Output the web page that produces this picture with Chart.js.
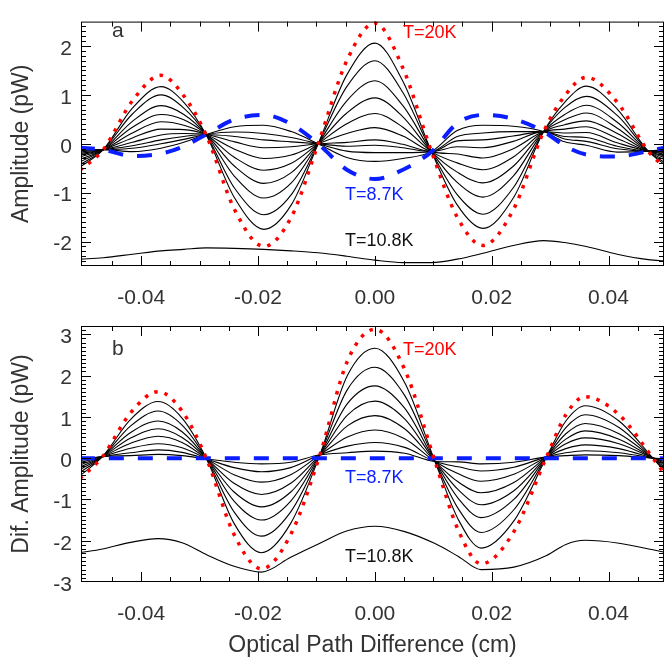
<!DOCTYPE html>
<html>
<head>
<meta charset="utf-8">
<script src="https://cdn.jsdelivr.net/npm/chart.js@4.4.1/dist/chart.umd.min.js"></script>
<style>
  body { margin: 0; background: #fff; }
  #wrap { position: relative; width: 665px; height: 663px; }
  canvas { position: absolute; left: 0; }
</style>
</head>
<body>
<div id="wrap">
  <canvas id="panelA" width="665" height="320" style="top:0"></canvas>
  <canvas id="panelB" width="665" height="363" style="top:300px"></canvas>
</div>
<script>
// tick labels
const opdTicks = [-0.04, -0.02, 0.00, 0.02, 0.04];
const ampTicksA = [-2, -1, 0, 1, 2];
const ampTicksB = [-3, -2, -1, 0, 1, 2, 3];

// optical path difference (cm) sample positions, panel a
const opdA = [-0.0505, -0.0465, -0.0415, -0.0366, -0.0327, -0.0289, -0.0240, -0.0190, -0.0143, -0.0097, -0.0048, 0.0,
              0.0048, 0.0097, 0.0141, 0.0185, 0.0237, 0.0289, 0.0325, 0.0362, 0.0415, 0.0468, 0.0500];
// amplitude (pW)
const ampA20K  = [-0.54, -0.12, 0.88, 1.40, 0.98, 0.19, -1.35, -2.10, -1.50, 0.00, 1.70, 2.47, 1.55, -0.16, -1.50, -2.08, -1.35, 0.25, 0.98, 1.36, 0.85, -0.15, -0.52];
const ampA87K  = [-0.08, -0.12, -0.25, -0.20, -0.05, 0.19, 0.50, 0.59, 0.40, 0.00, -0.53, -0.72, -0.53, -0.16, 0.42, 0.59, 0.51, 0.25, -0.04, -0.22, -0.26, -0.15, -0.07];
const ampA108K = [-2.36, -2.33, -2.26, -2.19, -2.16, -2.13, -2.14, -2.16, -2.19, -2.23, -2.30, -2.38, -2.43, -2.43, -2.36, -2.24, -2.08, -1.98, -2.02, -2.10, -2.26, -2.37, -2.40];
const ampA1  = [-0.48, -0.12, 0.73, 1.17, 0.85, 0.19, -1.11, -1.75, -1.25, 0.00, 1.41, 2.06, 1.28, -0.16, -1.25, -1.73, -1.11, 0.25, 0.85, 1.18, 0.71, -0.15, -0.46];
const ampA2  = [-0.43, -0.12, 0.61, 1.00, 0.73, 0.19, -0.91, -1.45, -1.04, 0.00, 1.17, 1.70, 1.05, -0.16, -1.04, -1.44, -0.90, 0.25, 0.74, 0.97, 0.58, -0.15, -0.41];
const ampA3  = [-0.37, -0.12, 0.46, 0.78, 0.60, 0.19, -0.67, -1.11, -0.80, 0.00, 0.88, 1.29, 0.78, -0.16, -0.79, -1.09, -0.66, 0.25, 0.60, 0.79, 0.44, -0.15, -0.35];
const ampA4  = [-0.32, -0.12, 0.34, 0.60, 0.49, 0.19, -0.46, -0.81, -0.59, 0.00, 0.63, 0.94, 0.55, -0.16, -0.58, -0.80, -0.46, 0.25, 0.49, 0.63, 0.32, -0.15, -0.30];
const ampA5  = [-0.27, -0.12, 0.22, 0.45, 0.38, 0.19, -0.28, -0.54, -0.40, 0.00, 0.41, 0.62, 0.34, -0.16, -0.39, -0.53, -0.27, 0.25, 0.39, 0.47, 0.21, -0.15, -0.26];
const ampA6  = [-0.23, -0.12, 0.12, 0.30, 0.29, 0.19, -0.11, -0.30, -0.23, 0.00, 0.21, 0.33, 0.16, -0.16, -0.21, -0.29, -0.10, 0.25, 0.30, 0.35, 0.11, -0.15, -0.22];
const ampA7  = [-0.20, -0.12, 0.03, 0.18, 0.21, 0.19, 0.04, -0.08, -0.06, 0.00, 0.03, 0.08, -0.01, -0.16, -0.06, -0.08, 0.05, 0.25, 0.22, 0.23, 0.02, -0.15, -0.18];
const ampA8  = [-0.17, -0.12, -0.04, 0.08, 0.15, 0.19, 0.15, 0.08, 0.04, 0.00, -0.05, -0.03, -0.08, -0.16, 0.06, 0.08, 0.16, 0.25, 0.15, 0.13, -0.05, -0.15, -0.16];
const ampA9  = [-0.14, -0.12, -0.09, 0.00, 0.09, 0.19, 0.24, 0.21, 0.13, 0.00, -0.15, -0.18, -0.18, -0.16, 0.15, 0.22, 0.25, 0.25, 0.10, 0.05, -0.10, -0.15, -0.13];
const ampA10 = [-0.12, -0.12, -0.16, -0.09, 0.03, 0.19, 0.35, 0.38, 0.25, 0.00, -0.28, -0.36, -0.30, -0.16, 0.27, 0.38, 0.36, 0.25, 0.04, -0.03, -0.17, -0.15, -0.11];

// panel b
const opdB = [-0.0505, -0.0466, -0.0418, -0.0371, -0.0330, -0.0288, -0.0241, -0.0194, -0.0144, -0.0094, -0.0047, 0.0,
              0.0051, 0.0103, 0.0143, 0.0182, 0.0238, 0.0294, 0.0327, 0.0360, 0.0418, 0.0476, 0.0500];
const difB20K  = [-0.50, 0.04, 1.10, 1.61, 1.14, -0.02, -1.85, -2.68, -1.85, 0.08, 2.35, 3.12, 2.15, -0.08, -1.75, -2.56, -1.78, 0.03, 1.05, 1.49, 1.05, 0.00, -0.46];
const opdB87K  = [-0.0505, 0.0500];
const difB87K  = [0.00, 0.00];
const difB108K = [-2.29, -2.20, -2.04, -1.95, -2.05, -2.34, -2.62, -2.76, -2.40, -2.06, -1.76, -1.65, -1.78, -2.07, -2.38, -2.70, -2.64, -2.36, -2.09, -1.99, -2.06, -2.22, -2.29];
const difB1 = [-0.43, 0.04, 0.94, 1.37, 0.97, -0.02, -1.58, -2.29, -1.58, 0.08, 2.00, 2.66, 1.83, -0.08, -1.49, -2.18, -1.52, 0.03, 0.90, 1.27, 0.90, 0.00, -0.39];
const difB2 = [-0.35, 0.04, 0.78, 1.14, 0.80, -0.02, -1.30, -1.89, -1.30, 0.08, 1.66, 2.20, 1.52, -0.08, -1.23, -1.80, -1.25, 0.03, 0.74, 1.05, 0.74, 0.00, -0.32];
const difB3 = [-0.28, 0.04, 0.62, 0.90, 0.64, -0.02, -1.04, -1.50, -1.04, 0.08, 1.32, 1.75, 1.21, -0.08, -0.98, -1.44, -1.00, 0.03, 0.59, 0.84, 0.59, 0.00, -0.26];
const difB4 = [-0.22, 0.04, 0.49, 0.71, 0.50, -0.02, -0.82, -1.18, -0.82, 0.08, 1.04, 1.38, 0.95, -0.08, -0.77, -1.13, -0.79, 0.03, 0.46, 0.66, 0.46, 0.00, -0.20];
const difB5 = [-0.17, 0.04, 0.36, 0.53, 0.38, -0.02, -0.61, -0.88, -0.61, 0.08, 0.78, 1.03, 0.71, -0.08, -0.58, -0.84, -0.59, 0.03, 0.35, 0.49, 0.35, 0.00, -0.15];
const difB6 = [-0.11, 0.04, 0.24, 0.35, 0.25, -0.02, -0.40, -0.58, -0.40, 0.08, 0.51, 0.68, 0.47, -0.08, -0.38, -0.56, -0.39, 0.03, 0.23, 0.32, 0.23, 0.00, -0.10];
const difB7 = [-0.06, 0.04, 0.13, 0.20, 0.14, -0.02, -0.23, -0.33, -0.23, 0.08, 0.29, 0.38, 0.26, -0.08, -0.21, -0.31, -0.22, 0.03, 0.13, 0.18, 0.13, 0.00, -0.06];
const difB8 = [-0.03, 0.04, 0.06, 0.09, 0.06, -0.02, -0.10, -0.14, -0.10, 0.08, 0.13, 0.17, 0.12, -0.08, -0.09, -0.14, -0.10, 0.03, 0.06, 0.08, 0.06, 0.00, -0.02];

const ink = '#333';
const red = '#ff0000';
const blue = '#0a1eff';
const family = '"Liberation Sans", Arial, Helvetica, sans-serif';

const pts = (xs, ys) => xs.map((x, i) => ({x: x, y: ys[i]}));

function line(xs, ys, style) {
  return Object.assign({
    data: pts(xs, ys),
    borderColor: '#000',
    borderWidth: 1.1,
    pointRadius: 0,
    fill: false,
    clip: 0,
    cubicInterpolationMode: 'monotone',
  }, style);
}

// frame, inward IDL style ticks and the curve notes
const frameTicks = {
  id: 'frameTicks',
  afterDatasetsDraw(chart, args, opts) {
    const {ctx, chartArea: a, scales: {x, y}} = chart;
    ctx.save();
    ctx.strokeStyle = '#000';
    ctx.lineWidth = 1;
    ctx.beginPath();
    for (let i = -10; i <= 10; i++) {
      const px = Math.round(x.getPixelForValue(i * 0.005)) + 0.5;
      if (px < a.left + 3 || px > a.right - 3) continue;
      const len = i % 4 === 0 ? 10 : 5;
      ctx.moveTo(px, a.bottom); ctx.lineTo(px, a.bottom - len);
      ctx.moveTo(px, a.top); ctx.lineTo(px, a.top + len);
    }
    for (let i = Math.ceil(y.min * 10); i <= Math.floor(y.max * 10); i++) {
      const py = Math.round(y.getPixelForValue(i / 10)) + 0.5;
      if (py < a.top + 3 || py > a.bottom - 3) continue;
      const len = i % 10 === 0 ? 10 : 5;
      ctx.moveTo(a.left, py); ctx.lineTo(a.left + len, py);
      ctx.moveTo(a.right, py); ctx.lineTo(a.right - len, py);
    }
    ctx.stroke();
    ctx.strokeRect(a.left + 0.5, a.top + 0.5, a.right - a.left - 1, a.bottom - a.top - 1);

    ctx.textBaseline = 'alphabetic';
    ctx.textAlign = 'left';
    (opts.notes || []).forEach(n => {
      ctx.font = n.size + 'px ' + family;
      ctx.fillStyle = n.color;
      ctx.fillText(n.text, n.x, n.y);
    });
    ctx.restore();
  }
};

function panelOptions(p) {
  return {
    responsive: false,
    animation: false,
    events: [],
    layout: {padding: {top: p.padTop, right: 1, left: 0, bottom: 0}},
    plugins: {
      legend: {display: false},
      tooltip: {enabled: false},
      frameTicks: {notes: p.notes},
    },
    scales: {
      x: {
        type: 'linear',
        min: -0.0503,
        max: 0.0495,
        grid: {display: false, drawTicks: false},
        border: {display: false},
        afterFit: s => { s.height = p.xHeight; },
        afterBuildTicks: s => { s.ticks = opdTicks.map(v => ({value: v})); },
        ticks: {
          padding: 20, autoSkip: false, maxRotation: 0,
          color: ink, font: {family: family, size: 21},
          callback: v => v.toFixed(2),
        },
        title: {
          display: !!p.xTitle, text: p.xTitle || '', color: ink,
          font: {family: family, size: 23}, padding: {top: 0, bottom: 4},
        },
      },
      y: {
        type: 'linear',
        min: p.yMin,
        max: p.yMax,
        grid: {display: false, drawTicks: false},
        border: {display: false},
        afterFit: s => { s.width = 81; },
        afterBuildTicks: s => { s.ticks = p.yTicks.map(v => ({value: v})); },
        ticks: {
          padding: 9, labelOffset: 3, autoSkip: false,
          color: ink, font: {family: family, size: 21},
          callback: v => String(v),
        },
        title: {
          display: true, text: p.yTitle, color: ink,
          font: {family: family, size: 23}, padding: {top: 7.5, bottom: 0},
        },
      },
    },
  };
}

const dotted = {borderColor: red, borderWidth: 3.5, borderDash: [3.5, 7]};
const dashed = {borderColor: blue, borderWidth: 4, borderDash: [15, 14]};

new Chart(document.getElementById('panelA'), {
  type: 'line',
  data: {
    datasets: [
      line(opdA, ampA20K, dotted),
      line(opdA, ampA87K, dashed),
      line(opdA, ampA108K),
      ...[ampA1, ampA2, ampA3, ampA4, ampA5, ampA6, ampA7, ampA8, ampA9, ampA10].map(s => line(opdA, s)),
    ],
  },
  options: panelOptions({
    padTop: 10, xHeight: 54, yMin: -2.5, yMax: 2.5, yTicks: ampTicksA, yTitle: 'Amplitude (pW)',
    notes: [
      {text: 'a', x: 112, y: 37, color: ink, size: 21},
      {text: 'T=20K', x: 403, y: 38, color: red, size: 18},
      {text: 'T=8.7K', x: 345, y: 200, color: blue, size: 18},
      {text: 'T=10.8K', x: 345, y: 246, color: '#111', size: 18},
    ],
  }),
  plugins: [frameTicks],
});

new Chart(document.getElementById('panelB'), {
  type: 'line',
  data: {
    datasets: [
      line(opdB, difB20K, dotted),
      line(opdB87K, difB87K, dashed),
      line(opdB, difB108K),
      ...[difB1, difB2, difB3, difB4, difB5, difB6, difB7, difB8].map(s => line(opdB, s)),
    ],
  },
  options: panelOptions({
    padTop: 26, xHeight: 81, yMin: -3, yMax: 3.2, yTicks: ampTicksB, yTitle: 'Dif. Amplitude (pW)',
    xTitle: 'Optical Path Difference (cm)',
    notes: [
      {text: 'b', x: 112, y: 55, color: ink, size: 21},
      {text: 'T=20K', x: 403, y: 55, color: red, size: 18},
      {text: 'T=8.7K', x: 345, y: 183, color: blue, size: 18},
      {text: 'T=10.8K', x: 345, y: 262, color: '#111', size: 18},
    ],
  }),
  plugins: [frameTicks],
});
</script>
</body>
</html>
